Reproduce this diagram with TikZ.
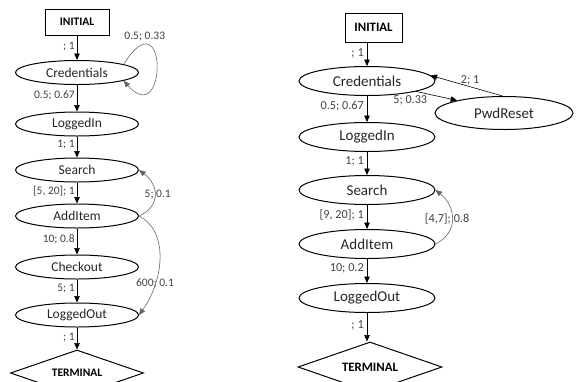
\documentclass[tikz,border=0pt]{standalone}
\usepackage{fontspec}
\setmainfont{Carlito}
\usetikzlibrary{shapes.geometric,arrows.meta}

\tikzset{
  state/.style={ellipse, draw, line width=1pt, inner sep=0pt, text=black!85},
  startbox/.style={rectangle, draw, line width=1pt, inner sep=0pt},
  endbox/.style={diamond, draw, line width=1pt, inner sep=0pt},
  flow/.style={-{Triangle[length=6.5pt,width=5.5pt]}, line width=0.6pt},
  backflow/.style={flow, draw=black!60},
  prob/.style={text=black!75, inner sep=1pt},
}

\begin{document}
\begin{tikzpicture}[x=1pt, y=-1pt]
    \useasboundingbox (0,0) rectangle (581,381);

    % Usage profile without password reset
    \begin{scope}[state/.append style={minimum width=123pt, minimum height=24pt, font=\fontsize{13.5}{15}\selectfont},
                  prob/.append style={font=\fontsize{11.5}{13}\selectfont}]
        \node[startbox, minimum width=64pt, minimum height=26pt, font=\fontsize{11.5}{13}\selectfont\bfseries] (initA) at (77, 22) {INITIAL};
        \node[state] (credA)   at (77, 72.5) {Credentials};
        \node[state] (loginA)  at (77, 124)  {LoggedIn};
        \node[state] (searchA) at (77, 170)  {Search};
        \node[state] (addA)    at (77, 216)  {AddItem};
        \node[state] (checkA)  at (77, 267)  {Checkout};
        \node[state] (outA)    at (77, 315)  {LoggedOut};
        \node[endbox, aspect=2.9, minimum width=133pt, minimum height=46pt, font=\fontsize{11.5}{13}\selectfont\bfseries] (termA) at (77, 373) {TERMINAL};

        \draw[flow] (initA) -- node[prob, left=1pt, pos=0.45] {; 1} (credA);
        \draw[flow] (credA) -- node[prob, left=1pt, pos=0.4] {0.5; 0.67} (loginA);
        \draw[flow] (loginA) -- node[prob, left=1pt, pos=0.4] {1; 1} (searchA);
        \draw[flow] (searchA) -- node[prob, left=1pt, pos=0.4] {[5, 20]; 1} (addA);
        \draw[flow] (addA) -- node[prob, left=1pt, pos=0.4] {10; 0.8} (checkA);
        \draw[flow] (checkA) -- node[prob, left=1pt, pos=0.4] {5; 1} (outA);
        \draw[flow] (outA) -- node[prob, left=1pt, pos=0.45] {; 1} (termA);

        % loops back and skips
        \draw[backflow] (credA.10) .. controls +(44,-70) and +(44,50) .. node[prob, pos=0.2, yshift=7pt] {0.5; 0.33} (credA.-10);
        \draw[backflow] (addA.east) .. controls +(22,-10) and +(20,15) .. node[prob, pos=0.5, xshift=3pt] {5; 0.1} (searchA.east);
        \draw[backflow] (addA.east) .. controls +(30,15) and +(25,-35) .. node[prob, pos=0.72] {600; 0.1} (outA.east);
    \end{scope}

    % Usage profile with password reset
    \begin{scope}[state/.append style={minimum width=136pt, minimum height=29pt, font=\fontsize{15}{17}\selectfont},
                  prob/.append style={font=\fontsize{12.2}{14}\selectfont}]
        \node[startbox, minimum width=57pt, minimum height=29pt, font=\fontsize{12.8}{14}\selectfont\bfseries] (initB) at (373.5, 27.5) {INITIAL};
        \node[state] (credB)   at (367, 81)  {Credentials};
        \node[state] (loginB)  at (367, 137) {LoggedIn};
        \node[state] (searchB) at (367, 190) {Search};
        \node[state] (addB)    at (367, 244) {AddItem};
        \node[state] (outB)    at (367, 298) {LoggedOut};
        \node[state, minimum width=138pt, minimum height=33pt] (pwdB) at (504, 113) {PwdReset};
        \node[endbox, aspect=2.9, minimum width=144pt, minimum height=50pt, font=\fontsize{12.8}{14}\selectfont\bfseries] (termB) at (370, 367) {TERMINAL};

        \draw[flow] (initB.south -| credB.north) -- node[prob, left=2pt, pos=0.45] {; 1} (credB.north);
        \draw[flow] (credB) -- node[prob, left=2pt, pos=0.4] {0.5; 0.67} (loginB);
        \draw[flow] (loginB) -- node[prob, left=2pt, pos=0.4] {1; 1} (searchB);
        \draw[flow] (searchB) -- node[prob, left=2pt, pos=0.4] {[9, 20]; 1} (addB);
        \draw[flow] (addB) -- node[prob, left=2pt, pos=0.4] {10; 0.2} (outB);
        \draw[flow] (outB.south) -- node[prob, left=2pt, pos=0.45] {; 1} (outB.south |- termB.north);

        % password reset and loop back
        \draw[flow] (credB.-12) -- node[prob, pos=0.3, below left=0pt] {5; 0.33} (pwdB.165);
        \draw[flow] (pwdB.95) -- node[prob, pos=0.45, above] {2; 1} (credB.5);
        \draw[backflow] (addB.east) .. controls +(24,-12) and +(20,16) .. node[prob, pos=0.5, xshift=-5pt] {[4,7]; 0.8} (searchB.east);
    \end{scope}
\end{tikzpicture}
\end{document}
